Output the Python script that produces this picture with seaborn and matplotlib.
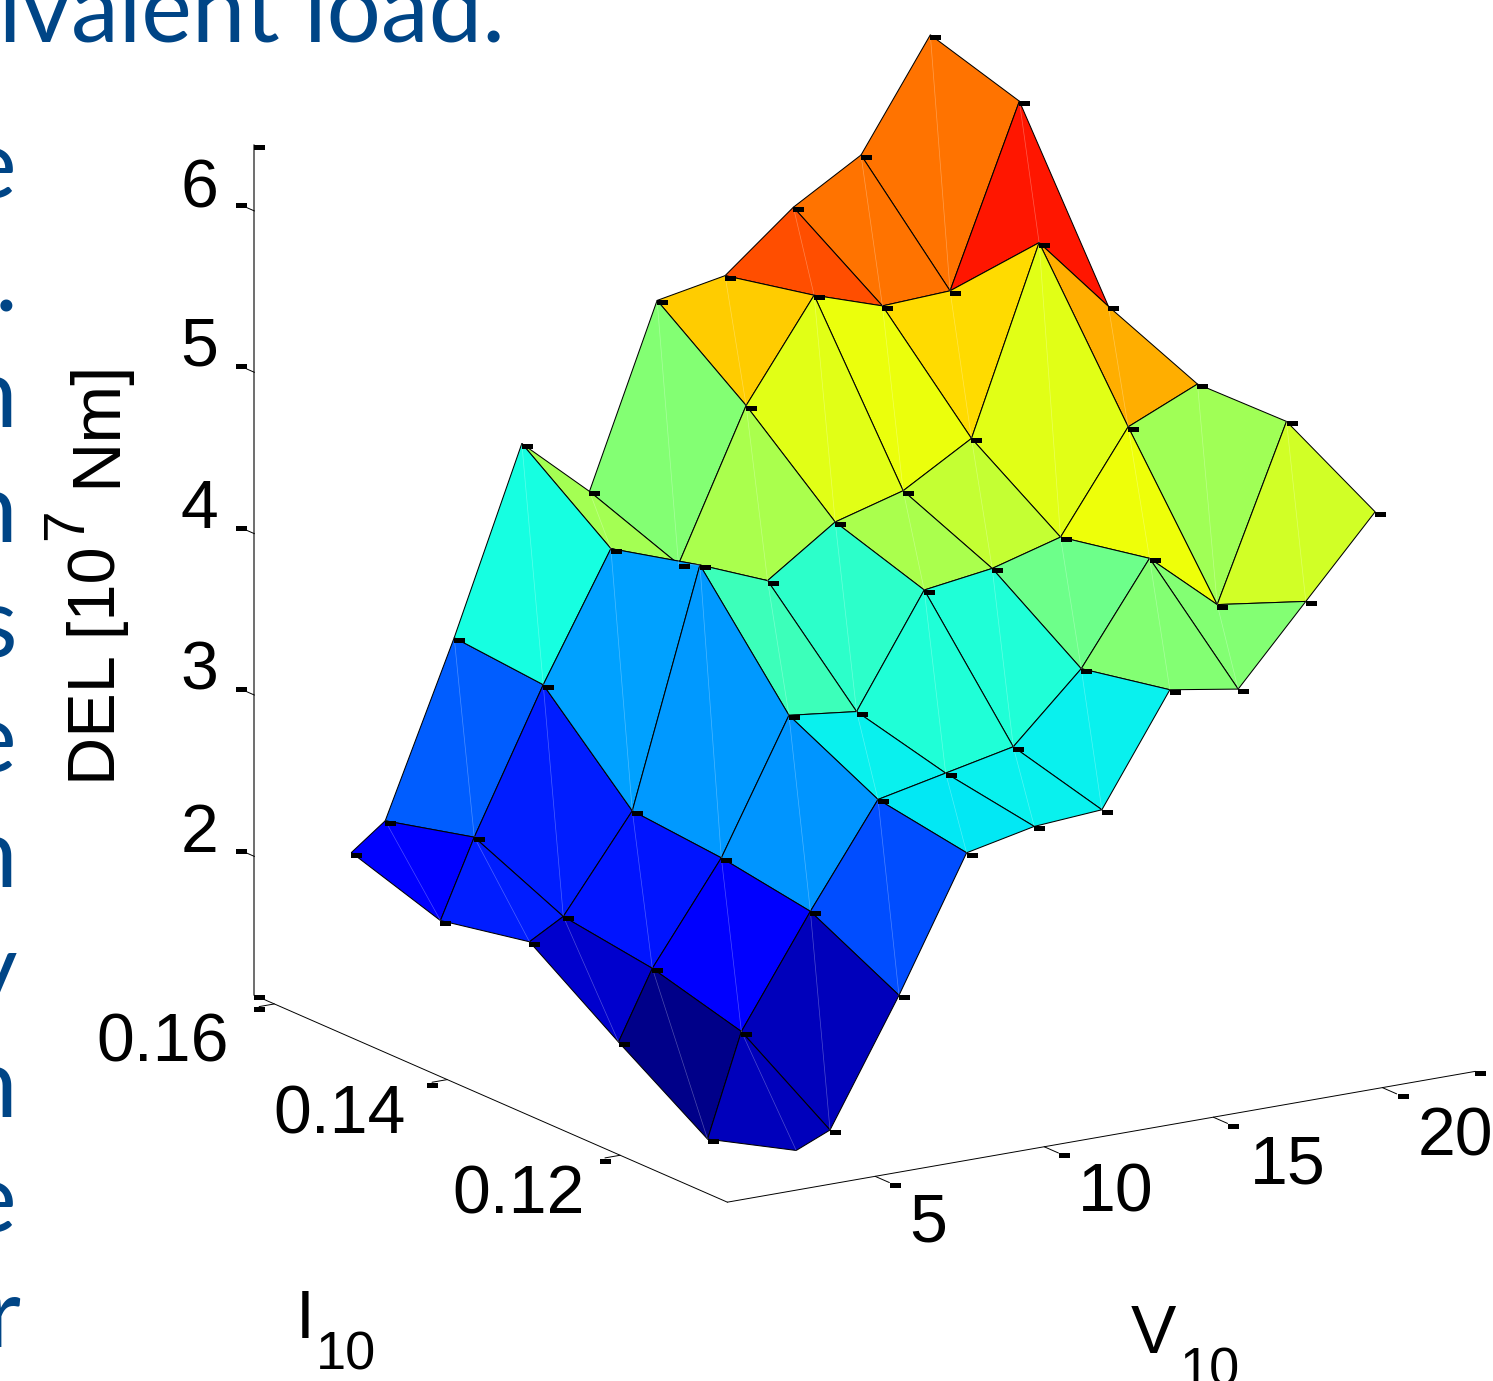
"""Superficie de DEL em funcao de V10 e I10, com colormap jet."""
import numpy as np
import matplotlib
matplotlib.use('Agg')
import matplotlib.pyplot as plt
from matplotlib.path import Path
import seaborn as sns

LARGURA, ALTURA = 1493, 1381

vento = [3.88, 4.88, 6.92, 8.92, 10.92, 12.92, 14.93, 16.95, 18.95, 21]
turbulencia = [0.11235, 0.1226, 0.1329, 0.1432, 0.1535, 0.1638]

# DEL por linha de vento, uma coluna por turbulencia
del_v04 = [1.23, 1.06, 1.42, 1.80, 1.69, 1.87]
del_v05 = [1.32, 1.69, 1.84, 1.92, 2.17, 2.03]
del_v07 = [2.08, 2.36, 2.45, 2.50, 3.04, 3.09]
del_v09 = [2.89, 2.98, 3.26, 3.95, 3.81, 4.22]
del_v11 = [2.98, 3.07, 3.21, 3.78, 3.64, 3.85]
del_v13 = [3.01, 3.16, 3.89, 4.07, 4.55, 4.96]
del_v15 = [3.68, 3.57, 3.95, 4.19, 5.16, 5.04]
del_v17 = [3.61, 4.18, 4.07, 4.44, 5.02, 5.39]
del_v19 = [4.08, 3.82, 4.68, 5.58, 5.04, 5.64]
del_v21 = [4.56, 4.88, 4.87, 5.11, 6.14, 6.31]

# nivel de cor (0-1 no jet) de cada face da malha
nivel_v04 = [.054, .011, .067, .156, .110]
nivel_v05 = [.054, .110, .145, .155, .218]
nivel_v07 = [.203, .272, .277, .282, .375]
nivel_v09 = [.355, .362, .423, .550, .550]
nivel_v11 = [.362, .387, .405, .557, .508]
nivel_v13 = [.362, .387, .557, .623, .694]
nivel_v15 = [.508, .483, .587, .635, .826]
nivel_v17 = [.508, .640, .623, .678, .788]
nivel_v19 = [.604, .544, .725, .885, .788]

ticks_v = [5, 10, 15, 20]
ticks_i = [0.12, 0.14, 0.16]
ticks_del = [2, 3, 4, 5, 6]

lim_v = (0.63, 22.75)
lim_i = (0.1076, 0.1623)
lim_del = (1.14, 6.41)

sns.set_theme(style='white')
plt.rcParams['font.family'] = ['Liberation Sans', 'DejaVu Sans']


def texto(fig, x, y, s, **kw):
    """Texto posicionado em pixels da imagem (origem no topo)."""
    return fig.text(x / LARGURA, 1 - y / ALTURA, s, **kw)


def main():
    fig = plt.figure(figsize=(LARGURA / 100, ALTURA / 100), dpi=100, facecolor='white')
    lado = 1400
    ax = fig.add_axes([146 / LARGURA, 54 / ALTURA, lado / LARGURA, lado / ALTURA],
                      projection='3d')
    ax.set_proj_type('ortho')
    ax.view_init(elev=16.06, azim=-122.3)
    ax.patch.set_alpha(0)
    ax.set_axis_off()

    V, I = np.meshgrid(vento, turbulencia, indexing='ij')
    Z = np.array([del_v04, del_v05, del_v07, del_v09, del_v11,
                  del_v13, del_v15, del_v17, del_v19, del_v21])
    niveis = np.array([nivel_v04, nivel_v05, nivel_v07, nivel_v09, nivel_v11,
                       nivel_v13, nivel_v15, nivel_v17, nivel_v19])
    jet = matplotlib.colormaps['jet']

    surf = ax.plot_surface(V, I, Z, facecolors=jet(niveis), rstride=1, cstride=1, shade=False)
    surf.set_edgecolor('black')
    surf.set_linewidth(0.75)

    ax.set_xlim(*lim_v)
    ax.set_ylim(*lim_i)
    ax.set_zlim(*lim_del)
    ax.set_box_aspect((1, 1, 1), zoom=1488 / lado)

    # emendas claras entre os dois triangulos de cada face
    for i in range(len(vento) - 1):
        for k in range(len(turbulencia) - 1):
            ax.plot([V[i, k], V[i + 1, k + 1]], [I[i, k], I[i + 1, k + 1]],
                    [Z[i, k], Z[i + 1, k + 1]], color='white', lw=0.5, alpha=0.3, zorder=6)

    # tracinhos pretos nos vertices, deslocados para a direita
    traco = Path([(0, 0), (11, 0), (11, -5), (0, -5), (0, 0)], closed=True)
    marca = dict(ls='', marker=traco, ms=15.84, mew=0, color='black', zorder=10)
    mascara = np.ones(Z.shape, dtype=bool)
    mascara[0, 0] = False
    ax.plot(V[mascara], I[mascara], Z[mascara], **marca)

    # eixos
    v0, v1 = lim_v
    i0, i1 = lim_i
    z0, z1 = lim_del
    linha = dict(color='black', lw=0.7, zorder=1)
    ax.plot([v0, v1], [i0, i0], [z0, z0], **linha)
    ax.plot([v0, v0], [i0, i1], [z0, z0], **linha)
    ax.plot([v0, v0], [i1, i1], [z0, z1], color='#555555', lw=1.2, zorder=1)

    for t in ticks_v:
        ax.plot([t, t], [i0, i0 - 0.00165], [z0, z0], **linha)
        ax.plot([t], [i0 - 0.00175], [z0], **marca)
    for t in ticks_i:
        ax.plot([v0, v0 - 0.45], [t, t], [z0, z0], **linha)
        ax.plot([v0 - 0.6], [t], [z0], **marca)
    for t in ticks_del:
        ax.plot([v0, v0], [i1, i1 + 0.0009], [t, t], **linha)
        ax.plot([v0], [i1 + 0.0021], [t], **marca)
    ax.plot([v1, v0, v0], [i0, i1, i1], [z0, z0, z1], **marca)

    # rotulos dos ticks
    fs = 49
    centro = dict(ha='center', va='center', fontsize=fs, color='black')
    pos_del = [(199, 834), (199, 671), (199, 510), (199, 348), (199, 189)]
    pos_i = [(519, 1195), (340, 1116), (163, 1043)]
    pos_v = [(928, 1224), (1116, 1194), (1288, 1166), (1455, 1138)]
    for t, (x, y) in zip(ticks_del, pos_del):
        texto(fig, x, y, str(t), **centro)
    for t, (x, y) in zip(ticks_i, pos_i):
        texto(fig, x, y, f'{t:.2f}', **centro)
    for t, (x, y) in zip(ticks_v, pos_v):
        texto(fig, x, y, str(t), **centro)

    # rotulos dos eixos
    base = dict(color='black', va='baseline', ha='left')
    texto(fig, 296, 1338, 'I', fontsize=fs, **base)
    texto(fig, 316, 1370, '10', fontsize=39, **base)
    texto(fig, 1131, 1353, 'V', fontsize=fs, **base)
    texto(fig, 1180, 1385, '10', fontsize=39, **base)

    vert = dict(color='black', rotation=90, ha='left', va='baseline',
                rotation_mode='anchor')
    texto(fig, 115, 785, 'DEL [10', fontsize=48, **vert)
    texto(fig, 82, 540, '7', fontsize=41, **vert)
    texto(fig, 115, 487, 'Nm]', fontsize=50, **vert)

    # texto do slide ao fundo, cortado pela borda
    azul = dict(color='#004586', family=['Lato', 'DejaVu Sans'], fontsize=69,
                ha='right', va='baseline')
    texto(fig, 505, 42, 'equivalent load.', **azul)
    finais = ['e', '.', 'n', 'n', 's', 'e', 'n', 'y', 'n', 'e', 'r']
    for n, letra in enumerate(finais):
        texto(fig, 20 if letra == 'r' else 17, 197 + 115 * n, letra, **azul)

    fig.savefig('out.png', dpi=100, facecolor='white')
    plt.close(fig)


if __name__ == '__main__':
    main()
